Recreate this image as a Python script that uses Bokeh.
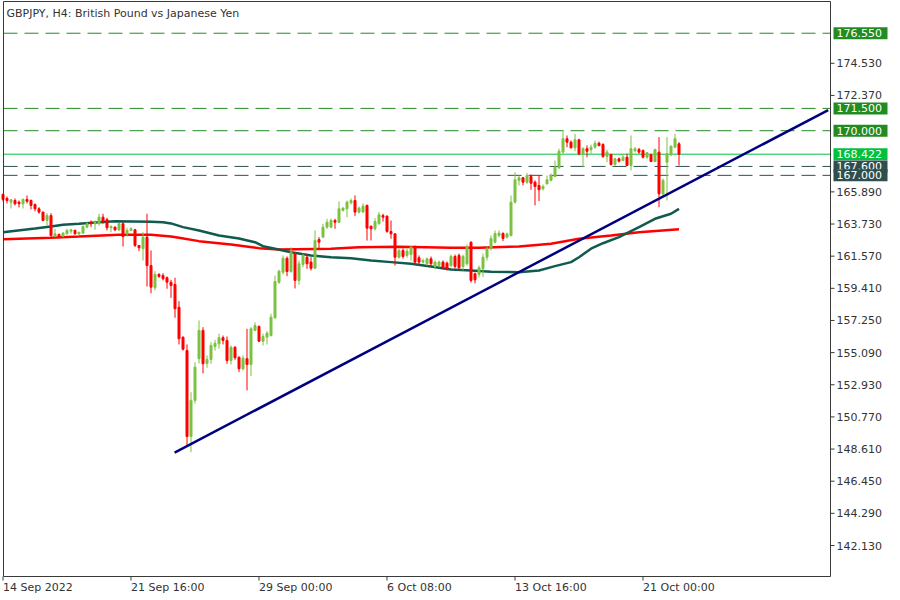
from bokeh.plotting import figure
from bokeh.models import Range1d, ColumnDataSource
from bokeh.core.properties import value
from bokeh.embed import file_html
from bokeh.resources import INLINE

title_text = "GBPJPY, H4:  British Pound vs Japanese Yen"

opens = [165.72, 165.45, 165.20, 165.31, 165.20, 165.09, 165.38, 165.31, 165.04, 164.75,
         164.53, 163.97, 164.30, 162.91, 163.03, 162.91, 163.07, 163.25, 163.30, 163.07,
         163.12, 163.52, 163.85, 163.75, 163.75, 164.19, 164.02, 163.48, 163.52, 163.34,
         163.75, 163.07, 163.30, 163.34, 162.29, 162.07, 162.85, 160.94, 159.45, 160.34,
         160.27, 160.12, 159.82, 159.67, 158.14, 156.13, 155.23, 149.45, 151.88, 154.68,
         156.58, 154.36, 154.63, 155.50, 155.68, 156.09, 155.91, 154.56, 155.45, 154.78,
         154.00, 154.68, 154.29, 156.58, 156.85, 155.86, 156.13, 156.24, 157.43, 159.82,
         160.49, 161.43, 160.54, 161.73, 159.94, 161.01, 161.50, 161.17, 160.76, 162.69,
         162.85, 163.52, 163.52, 163.97, 163.85, 164.64, 164.75, 165.16, 165.31, 164.53,
         164.53, 164.98, 163.58, 163.41, 163.75, 164.30, 164.26, 163.23, 163.07, 161.50,
         161.95, 161.62, 161.68, 162.18, 161.46, 161.17, 161.06, 161.39, 160.88, 160.94,
         161.17, 161.10, 160.94, 161.55, 161.62, 160.88, 161.06, 162.51, 160.39, 160.34,
         160.72, 161.50, 162.07, 162.51, 162.96, 163.09, 162.85, 162.96, 165.20, 166.66,
         166.84, 166.54, 166.92, 166.54, 166.32, 166.10, 166.43, 166.66, 166.92, 167.51,
         168.56, 169.46, 169.23, 168.85, 169.39, 168.45, 168.79, 168.72, 168.89, 169.16,
         169.07, 168.27, 168.40, 167.73, 168.11, 168.00, 168.22, 167.66, 168.65, 168.74,
         168.67, 168.22, 168.38, 167.93, 168.56, 165.76, 167.88, 168.38, 168.89, 169.12]
highs = [165.78, 165.58, 165.38, 165.45, 165.31, 165.45, 165.65, 165.38, 165.11, 164.86,
         164.57, 164.46, 164.46, 163.41, 163.09, 163.18, 163.41, 163.41, 163.36, 163.18,
         163.63, 163.85, 163.97, 163.97, 164.42, 164.42, 164.15, 163.63, 163.57, 163.81,
         163.85, 163.48, 163.52, 163.41, 162.29, 163.18, 164.42, 161.95, 160.56, 160.43,
         160.43, 160.21, 159.98, 160.12, 158.55, 156.17, 155.64, 152.43, 154.45, 157.25,
         156.80, 154.90, 155.79, 155.95, 156.36, 156.24, 156.17, 155.57, 155.52, 154.83,
         154.90, 156.69, 156.80, 157.13, 156.91, 156.36, 156.53, 157.70, 160.27, 160.66,
         161.62, 161.55, 162.17, 161.84, 161.28, 161.73, 161.73, 161.50, 163.30, 162.85,
         163.75, 164.08, 164.10, 164.08, 165.25, 164.86, 165.31, 165.45, 165.65, 164.91,
         165.11, 165.04, 163.63, 164.12, 164.53, 164.42, 164.30, 163.97, 163.09, 162.09,
         162.09, 162.09, 162.22, 162.29, 161.62, 161.41, 161.48, 161.55, 161.28, 161.28,
         161.28, 161.21, 161.68, 161.68, 161.75, 161.68, 162.36, 162.56, 160.47, 160.94,
         161.75, 162.22, 162.96, 163.30, 163.30, 163.18, 163.16, 165.65, 167.21, 166.99,
         166.88, 167.15, 167.06, 166.66, 166.99, 166.39, 166.99, 167.13, 168.00, 168.79,
         170.06, 169.68, 169.34, 169.79, 169.46, 168.89, 169.01, 169.07, 169.34, 169.27,
         169.16, 168.72, 168.45, 168.18, 168.20, 168.45, 168.45, 169.68, 168.90, 168.85,
         168.74, 168.56, 168.45, 168.79, 169.57, 166.79, 169.57, 169.01, 169.79, 169.23]
lows = [165.25, 165.11, 164.77, 164.98, 164.84, 164.77, 165.11, 164.71, 164.59, 164.42,
        163.92, 163.63, 162.74, 162.85, 162.78, 162.85, 163.03, 163.07, 163.03, 162.96,
        163.07, 163.45, 163.52, 163.34, 163.63, 163.75, 163.30, 163.18, 163.25, 163.25,
        162.22, 162.89, 163.25, 162.18, 161.91, 161.28, 159.53, 159.08, 159.27, 160.12,
        159.94, 159.38, 158.77, 157.43, 155.64, 155.23, 148.85, 148.40, 151.67, 154.36,
        153.69, 154.07, 154.34, 155.23, 155.35, 155.64, 154.34, 154.29, 154.61, 153.78,
        153.89, 152.55, 153.51, 156.53, 155.79, 155.57, 155.64, 156.17, 157.36, 159.71,
        160.34, 160.23, 160.45, 159.40, 159.65, 160.83, 160.72, 160.61, 160.72, 162.07,
        162.78, 163.41, 163.45, 163.41, 163.81, 164.57, 164.19, 165.04, 164.26, 164.44,
        164.51, 162.62, 162.62, 163.30, 163.68, 163.90, 163.14, 162.74, 160.94, 161.41,
        161.41, 161.48, 161.28, 161.08, 161.01, 161.08, 160.94, 160.88, 160.74, 160.81,
        160.68, 160.61, 160.81, 160.74, 160.61, 160.61, 160.94, 159.80, 159.74, 160.14,
        160.16, 161.28, 161.95, 162.42, 162.83, 162.58, 162.76, 162.89, 165.11, 166.32,
        166.32, 166.43, 166.03, 164.98, 165.27, 165.98, 166.39, 166.59, 166.88, 167.44,
        168.49, 168.89, 168.81, 168.62, 168.34, 167.55, 168.22, 168.45, 168.79, 168.94,
        168.18, 167.88, 167.66, 167.66, 167.86, 167.95, 167.66, 167.33, 168.54, 168.45,
        168.13, 168.11, 167.89, 167.89, 164.86, 165.53, 165.31, 168.29, 168.83, 167.66]
closes = [165.38, 165.31, 165.36, 165.09, 165.09, 165.38, 165.26, 164.98, 164.75, 164.53,
          163.97, 164.30, 162.96, 163.07, 162.91, 163.12, 163.30, 163.34, 163.07, 163.18,
          163.57, 163.75, 163.75, 163.85, 164.19, 163.92, 163.48, 163.57, 163.34, 163.75,
          162.89, 163.30, 163.41, 162.29, 162.13, 162.85, 160.94, 159.49, 160.34, 160.21,
          160.05, 159.82, 159.60, 158.04, 156.02, 155.32, 149.45, 151.88, 154.11, 156.58,
          154.34, 154.63, 155.57, 155.72, 156.09, 155.91, 154.56, 155.45, 154.74, 154.00,
          154.72, 154.29, 156.69, 156.91, 155.86, 156.17, 156.40, 157.47, 159.87, 160.56,
          161.43, 160.54, 161.84, 159.94, 161.06, 161.62, 161.06, 160.76, 162.62, 162.51,
          163.52, 163.85, 163.97, 163.85, 164.75, 164.80, 165.20, 165.31, 164.53, 164.80,
          164.93, 163.45, 163.41, 163.90, 164.35, 164.19, 163.23, 163.07, 161.50, 161.95,
          161.55, 161.91, 162.18, 161.17, 161.17, 161.28, 161.39, 161.06, 161.17, 161.17,
          160.79, 160.72, 161.55, 160.88, 160.79, 161.55, 162.18, 159.94, 159.98, 160.79,
          161.50, 162.07, 162.76, 163.09, 163.12, 162.76, 163.07, 165.20, 166.70, 166.84,
          166.54, 166.99, 166.47, 166.25, 166.03, 166.25, 166.70, 166.99, 167.55, 168.62,
          169.46, 169.23, 168.85, 169.39, 168.45, 168.79, 168.62, 168.89, 169.16, 169.01,
          168.27, 168.56, 167.73, 168.11, 167.95, 168.22, 167.66, 168.79, 168.79, 168.56,
          168.22, 168.52, 167.93, 168.74, 165.76, 166.66, 168.45, 168.96, 169.46, 168.42]

ma_teal_idx = [0, 8, 12, 15, 19, 24, 28, 37, 40, 42, 45, 49, 54, 59, 63, 65, 68, 72, 77, 82,
               87, 92, 97, 102, 107, 112, 117, 122, 129, 134, 138, 142, 144, 147, 150, 154,
               159, 163, 167, 169]
ma_teal_val = [163.18, 163.43, 163.57, 163.68, 163.75, 163.85, 163.92, 163.88, 163.85, 163.77,
               163.52, 163.30, 162.96, 162.76, 162.51, 162.24, 162.07, 161.84, 161.62, 161.50,
               161.43, 161.28, 161.17, 161.06, 160.88, 160.68, 160.61, 160.52, 160.49, 160.61,
               160.90, 161.17, 161.50, 162.07, 162.44, 162.85, 163.52, 164.08, 164.42, 164.75]
ma_red_idx = [0, 12, 19, 29, 37, 42, 44, 49, 57, 64, 69, 82, 89, 99, 112, 119, 129, 137,
              144, 152, 159, 169]
ma_red_val = [162.71, 162.81, 162.89, 163.01, 163.01, 162.89, 162.81, 162.58, 162.36, 162.11,
              162.02, 162.07, 162.17, 162.20, 162.13, 162.13, 162.22, 162.40, 162.74, 162.96,
              163.18, 163.38]

trend_idx = [42.9, 206.3]
trend_val = [148.37, 171.39]

levels = [176.55, 171.5, 170.0, 168.422, 167.6, 167.0]
level_kind = ["res", "res", "res", "price", "sup", "sup"]

y_ticks = [142.13, 144.29, 146.45, 148.61, 150.77, 152.93, 155.09, 157.25, 159.41,
           161.57, 163.73, 165.89, 172.37, 174.53]
x_tick_idx = [0, 32, 64, 96, 128, 160]
x_tick_labels = ["14 Sep 2022", "21 Sep 16:00", "29 Sep 00:00", "6 Oct 08:00",
                 "13 Oct 16:00", "21 Oct 00:00"]

# ---- styling / layout (pixels) ----
BULL = "#7DC243"
BEAR = "#FF0000"
TEAL = "#0F5B4E"
NAVY = "#00007F"
FOREST = "#228B22"
PRICE_GREEN = "#00C040"
SLATE = "#2F4F4F"
AXIS = "#3A3A3A"
TXT = "#333333"
FONT = value("DejaVu Sans")
FSIZE = value("11px")

W, H = 898, 598
FL, FR, FT, FB = 3, 830, 1, 576      # frame edges in pixels
PX_PER_BAR = 4.0
BAR0_PX = 2.5
REF_PRICE, REF_PY, PRICE_PER_PX = 142.13, 545.0, 0.06719


def X(px):
    return (px - BAR0_PX) / PX_PER_BAR


def Y(py):
    return REF_PRICE + (REF_PY - py) * PRICE_PER_PX


p = figure(width=W, height=H, x_range=Range1d(X(0), X(W)), y_range=Range1d(Y(H), Y(0)),
           x_axis_location=None, y_axis_location=None, output_backend="svg",
           toolbar_location=None, min_border=0, min_border_left=0, min_border_right=0,
           min_border_top=0, min_border_bottom=0,
           background_fill_color="white", border_fill_color="white")
p.title.visible = False
p.outline_line_color = None
p.xgrid.visible = False
p.ygrid.visible = False

kind_color = {"res": FOREST, "price": PRICE_GREEN, "sup": SLATE}

# horizontal levels
for lv, kd in zip(levels, level_kind):
    p.segment(x0=[X(FL)], y0=[lv], x1=[X(FR)], y1=[lv], line_color=kind_color[kd],
              line_width=1, line_dash="solid" if kd == "price" else "14 7")

# moving averages
p.line(ma_red_idx, ma_red_val, line_color=BEAR, line_width=2.5)
p.line(ma_teal_idx, ma_teal_val, line_color=TEAL, line_width=2.5)

# candles
xs = list(range(len(opens)))
cols = [BULL if c >= o else BEAR for o, c in zip(opens, closes)]
src = ColumnDataSource(dict(x=xs, h=highs, l=lows,
                            top=[max(o, c) for o, c in zip(opens, closes)],
                            bot=[min(o, c) for o, c in zip(opens, closes)],
                            color=cols))
p.segment(x0="x", y0="h", x1="x", y1="l", line_color="color", line_width=1, source=src)
p.vbar(x="x", width=0.5, top="top", bottom="bot", fill_color="color", line_color="color",
       line_width=1, source=src)

# trend line
p.line(trend_idx, trend_val, line_color=NAVY, line_width=2.5)

# frame border
p.segment(x0=[X(FL), X(FL), X(FL), X(FR)], y0=[Y(FT), Y(FB), Y(FT), Y(FT)],
          x1=[X(FR), X(FR), X(FL), X(FR)], y1=[Y(FT), Y(FB), Y(FB), Y(FB)],
          line_color=AXIS, line_width=1)

# y axis ticks + labels (right side)
p.segment(x0=[X(FR)] * len(y_ticks), y0=y_ticks, x1=[X(FR + 4)] * len(y_ticks), y1=y_ticks,
          line_color=AXIS, line_width=1)
p.text(x=[X(FR + 6)] * len(y_ticks), y=y_ticks, text=[f"{t:.3f}" for t in y_ticks],
       text_font=FONT, text_font_size=FSIZE, text_color=TXT, text_align="left",
       text_baseline="middle")

# x axis ticks + labels (bottom)
p.segment(x0=x_tick_idx, y0=[Y(FB)] * len(x_tick_idx), x1=x_tick_idx,
          y1=[Y(FB + 4)] * len(x_tick_idx), line_color=AXIS, line_width=1)
p.text(x=x_tick_idx, y=[Y(FB + 11)] * len(x_tick_idx), text=x_tick_labels,
       text_font=FONT, text_font_size=FSIZE, text_color=TXT, text_align="left",
       text_baseline="middle")

# title
p.text(x=[X(6)], y=[Y(12.5)], text=[title_text], text_font=FONT, text_font_size=FSIZE,
       text_color=TXT, text_align="left", text_baseline="middle")

# price boxes on the right axis
half = 6 * PRICE_PER_PX
for lv, kd in zip(levels, level_kind):
    p.quad(left=[X(FR + 3)], right=[X(FR + 57)], top=[lv + half], bottom=[lv - half],
           fill_color=kind_color[kd], line_color=None)
    p.text(x=[X(FR + 6)], y=[lv], text=[f"{lv:.3f}"], text_font=FONT, text_font_size=FSIZE,
           text_color="white", text_align="left", text_baseline="middle")

open("out.html", "w").write(file_html(p, INLINE))
